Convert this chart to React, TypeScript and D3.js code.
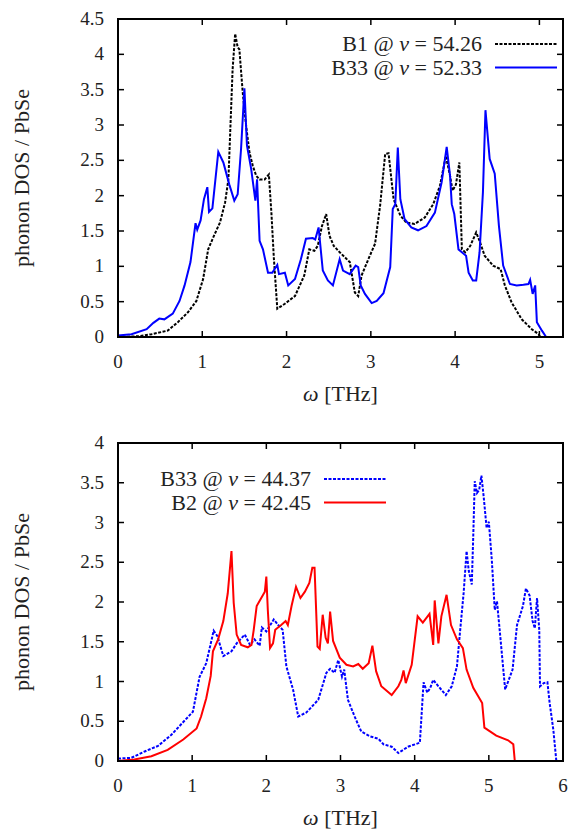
import React from 'react';
import * as d3 from 'd3';

// top panel: B1 and B33 at large volume
const topB1: [number, number][] = [
  [0, 0], [0.24, 0.01], [0.4, 0.04], [0.59, 0.09], [0.71, 0.21], [0.83, 0.35], [0.93, 0.51],
  [1.01, 0.82], [1.07, 1.24], [1.13, 1.41], [1.21, 1.62], [1.27, 1.9], [1.31, 2.23], [1.36, 3.79],
  [1.39, 4.29], [1.42, 4.1], [1.44, 4.07], [1.48, 3.46], [1.52, 2.99], [1.56, 2.61], [1.6, 2.42],
  [1.64, 2.28], [1.68, 2.23], [1.74, 2.23], [1.79, 2.3], [1.82, 1.76], [1.85, 1.1], [1.89, 0.4],
  [1.98, 0.47], [2.1, 0.58], [2.21, 0.87], [2.27, 1.24], [2.33, 1.22], [2.37, 1.29], [2.42, 1.57],
  [2.47, 1.74], [2.51, 1.43], [2.56, 1.29], [2.63, 1.2], [2.75, 1.06], [2.81, 0.63], [2.85, 0.58],
  [2.89, 0.87], [2.97, 1.1], [3.05, 1.32], [3.11, 1.86], [3.17, 2.59], [3.21, 2.6], [3.27, 1.95],
  [3.35, 1.72], [3.42, 1.62], [3.52, 1.6], [3.64, 1.69], [3.74, 1.88], [3.82, 2.14], [3.89, 2.56],
  [3.94, 2.28], [3.97, 2.07], [4.01, 2.16], [4.05, 2.47], [4.08, 1.24], [4.12, 1.2], [4.18, 1.29],
  [4.25, 1.48], [4.29, 1.36], [4.35, 1.15], [4.45, 1.01], [4.54, 0.96], [4.59, 0.73], [4.67, 0.49],
  [4.79, 0.25], [4.91, 0.11], [4.99, 0.04], [5.01, 0]
];

const topB33: [number, number][] = [
  [0, 0.02], [0.16, 0.04], [0.34, 0.11], [0.42, 0.2], [0.49, 0.26], [0.55, 0.25], [0.65, 0.33],
  [0.73, 0.51], [0.79, 0.73], [0.86, 1.06], [0.92, 1.61], [0.94, 1.52], [0.98, 1.65], [1.02, 1.95],
  [1.06, 2.12], [1.08, 1.77], [1.12, 1.82], [1.19, 2.62], [1.25, 2.47], [1.32, 2.16], [1.38, 1.93],
  [1.42, 2.02], [1.46, 2.66], [1.5, 3.52], [1.53, 2.71], [1.58, 2.38], [1.63, 1.93], [1.65, 2.23],
  [1.68, 1.36], [1.72, 1.24], [1.78, 0.91], [1.83, 0.91], [1.89, 1.02], [1.91, 0.89], [1.98, 0.91],
  [2.02, 0.73], [2.1, 0.82], [2.17, 1.1], [2.23, 1.39], [2.31, 1.4], [2.34, 1.38], [2.38, 1.55],
  [2.43, 0.94], [2.49, 0.8], [2.55, 0.73], [2.63, 1.1], [2.67, 0.94], [2.75, 0.89], [2.82, 1.01],
  [2.85, 0.99], [2.88, 0.73], [2.93, 0.61], [3.01, 0.48], [3.07, 0.51], [3.15, 0.62], [3.23, 0.99],
  [3.26, 1.81], [3.29, 1.88], [3.32, 2.68], [3.35, 1.95], [3.4, 1.67], [3.48, 1.55], [3.56, 1.51],
  [3.66, 1.57], [3.76, 1.76], [3.84, 2.19], [3.9, 2.69], [3.94, 2.28], [3.96, 1.88], [3.99, 1.74],
  [4.04, 1.24], [4.08, 1.2], [4.13, 1.15], [4.16, 0.91], [4.21, 0.8], [4.25, 0.8], [4.29, 1.2],
  [4.33, 2.05], [4.36, 3.21], [4.41, 2.52], [4.47, 2.31], [4.52, 1.57], [4.57, 1.01], [4.65, 0.75],
  [4.73, 0.73], [4.81, 0.74], [4.87, 0.75], [4.89, 0.81], [4.92, 0.61], [4.95, 0.73], [4.97, 0.21],
  [5.03, 0.09], [5.08, 0]
];

// bottom panel: B33 and B2 at small volume
const botB33: [number, number][] = [
  [0, 0.03], [0.18, 0.04], [0.36, 0.12], [0.54, 0.19], [0.72, 0.33], [0.88, 0.49], [1.01, 0.62],
  [1.1, 1.06], [1.19, 1.23], [1.29, 1.64], [1.34, 1.57], [1.42, 1.32], [1.53, 1.38], [1.6, 1.48],
  [1.71, 1.59], [1.78, 1.46], [1.84, 1.53], [1.91, 1.45], [1.94, 1.68], [2.0, 1.63], [2.1, 1.78],
  [2.16, 1.71], [2.22, 1.65], [2.27, 1.19], [2.36, 0.9], [2.43, 0.56], [2.54, 0.61], [2.7, 0.77],
  [2.81, 1.11], [2.86, 1.16], [2.92, 1.11], [2.97, 1.27], [3.02, 1.06], [3.05, 1.15], [3.1, 0.77],
  [3.19, 0.56], [3.28, 0.37], [3.4, 0.31], [3.51, 0.28], [3.58, 0.21], [3.69, 0.18], [3.78, 0.1],
  [3.91, 0.18], [4.07, 0.23], [4.12, 0.99], [4.17, 0.86], [4.21, 0.92], [4.25, 1.02], [4.32, 0.94],
  [4.42, 0.83], [4.5, 0.94], [4.57, 1.19], [4.61, 1.61], [4.66, 2.11], [4.7, 2.64], [4.73, 2.39],
  [4.77, 2.22], [4.79, 2.83], [4.81, 3.52], [4.84, 3.37], [4.87, 3.41], [4.9, 3.59], [4.93, 3.33],
  [4.97, 2.93], [5.0, 3.01], [5.04, 2.53], [5.08, 1.9], [5.11, 2.01], [5.15, 1.61], [5.22, 0.9],
  [5.26, 1.0], [5.32, 1.15], [5.38, 1.71], [5.46, 1.95], [5.5, 2.17], [5.55, 2.08], [5.59, 1.76],
  [5.62, 1.67], [5.65, 2.05], [5.68, 1.65], [5.69, 0.94], [5.74, 0.98], [5.79, 0.99], [5.82, 0.73],
  [5.87, 0.39], [5.91, 0]
];

const botB2: [number, number][] = [
  [0, 0], [0.22, 0.02], [0.45, 0.06], [0.67, 0.14], [0.88, 0.27], [1.06, 0.41], [1.12, 0.56],
  [1.19, 0.79], [1.25, 1.07], [1.28, 1.38], [1.35, 1.53], [1.42, 1.76], [1.48, 2.11], [1.53, 2.64],
  [1.56, 1.99], [1.6, 1.59], [1.66, 1.46], [1.75, 1.43], [1.8, 1.46], [1.83, 1.65], [1.87, 1.95],
  [1.92, 2.03], [1.98, 2.13], [2.0, 2.32], [2.02, 1.9], [2.05, 1.42], [2.09, 1.48], [2.12, 1.65],
  [2.2, 1.71], [2.26, 1.76], [2.29, 1.71], [2.34, 1.95], [2.4, 2.19], [2.46, 2.05], [2.52, 2.13],
  [2.58, 2.24], [2.62, 2.43], [2.65, 2.43], [2.69, 1.44], [2.72, 1.41], [2.76, 1.84], [2.8, 1.55],
  [2.83, 1.48], [2.86, 1.88], [2.9, 1.51], [2.99, 1.3], [3.08, 1.21], [3.17, 1.19], [3.24, 1.22],
  [3.3, 1.16], [3.38, 1.23], [3.43, 1.45], [3.48, 1.13], [3.55, 0.94], [3.69, 0.83], [3.78, 0.94],
  [3.82, 1.02], [3.85, 1.14], [3.88, 0.98], [3.96, 1.21], [4.04, 1.82], [4.11, 1.74], [4.2, 1.85],
  [4.25, 1.46], [4.27, 2.02], [4.32, 1.48], [4.36, 1.82], [4.43, 2.09], [4.49, 1.71], [4.57, 1.53],
  [4.65, 1.42], [4.7, 1.15], [4.79, 0.92], [4.91, 0.73], [4.94, 0.42], [5.1, 0.32], [5.26, 0.26],
  [5.33, 0.21], [5.35, 0]
];

const topXTicks = [0, 1, 2, 3, 4, 5];
const topYTicks = [0, 0.5, 1, 1.5, 2, 2.5, 3, 3.5, 4, 4.5];
const botXTicks = [0, 1, 2, 3, 4, 5, 6];
const botYTicks = [0, 0.5, 1, 1.5, 2, 2.5, 3, 3.5, 4];

const FONT = 'Liberation Serif, DejaVu Serif, serif';
const TXT = '#222';

type Series = { data: [number, number][]; color: string; dash?: string; label: string; vol: string };

const Panel = ({ top, bottom, xMax, yMax, xTicks, yTicks, series, legendRight, legendTop }: {
  top: number; bottom: number; xMax: number; yMax: number; xTicks: number[]; yTicks: number[];
  series: Series[]; legendRight: number; legendTop: number;
}) => {
  const left = 118, right = 563;
  const x = d3.scaleLinear().domain([0, xMax]).range([left, right]);
  const y = d3.scaleLinear().domain([0, yMax]).range([bottom, top]);
  const line = d3.line<[number, number]>().x(d => x(d[0])).y(d => y(d[1]));
  const tl = 6;
  return (
    <g style={{ fontFamily: FONT }}>
      {series.map((s, i) => (
        <path key={i} d={line(s.data) || ''} fill="none" stroke={s.color} strokeWidth={2}
          strokeDasharray={s.dash} strokeLinejoin="miter" />
      ))}
      {xTicks.map(t => (
        <g key={'x' + t}>
          <line x1={x(t)} x2={x(t)} y1={bottom} y2={bottom - tl} stroke="#000" strokeWidth={1.5} />
          <line x1={x(t)} x2={x(t)} y1={top} y2={top + tl} stroke="#000" strokeWidth={1.5} />
          <text x={x(t)} y={bottom + 31} textAnchor="middle" fontSize={19} fill={TXT}>{t}</text>
        </g>
      ))}
      {yTicks.map(t => (
        <g key={'y' + t}>
          <line x1={left} x2={left + tl} y1={y(t)} y2={y(t)} stroke="#000" strokeWidth={1.5} />
          <line x1={right} x2={right - tl} y1={y(t)} y2={y(t)} stroke="#000" strokeWidth={1.5} />
          <text x={left - 14} y={y(t) + 6} textAnchor="end" fontSize={19} fill={TXT}>{t}</text>
        </g>
      ))}
      <rect x={left} y={top} width={right - left} height={bottom - top} fill="none" stroke="#000" strokeWidth={2} />
      {series.map((s, i) => {
        const ly = legendTop + i * 23.5;
        return (
          <g key={'l' + i}>
            <text x={legendRight} y={ly + 7} textAnchor="end" fontSize={22} fill={TXT}>
              {s.label} @ <tspan fontStyle="italic">v</tspan> = {s.vol}
            </text>
            <line x1={legendRight + 13} x2={legendRight + 75} y1={ly} y2={ly} stroke={s.color} strokeWidth={2}
              strokeDasharray={s.dash} />
          </g>
        );
      })}
      <text transform={`translate(29,${(top + bottom) / 2}) rotate(-90)`} textAnchor="middle" fontSize={22}
        fill={TXT}>phonon DOS / PbSe</text>
      <text x={(left + right) / 2} y={bottom + 64} textAnchor="middle" fontSize={22} fill={TXT}>
        <tspan fontStyle="italic">ω</tspan> [THz]
      </text>
    </g>
  );
};

export default function App() {
  return (
    <svg width={571} height={833} style={{ position: 'absolute', left: 0, top: 0, background: '#fff' }}>
      <Panel top={19} bottom={337} xMax={5.28} yMax={4.5} xTicks={topXTicks} yTicks={topYTicks}
        legendRight={482} legendTop={44}
        series={[
          { data: topB1, color: '#000', dash: '3,1.5', label: 'B1', vol: '54.26' },
          { data: topB33, color: '#0000ff', label: 'B33', vol: '52.33' }
        ]} />
      <Panel top={443} bottom={761} xMax={6} yMax={4} xTicks={botXTicks} yTicks={botYTicks}
        legendRight={311} legendTop={479}
        series={[
          { data: botB33, color: '#0000ff', dash: '3,1.5', label: 'B33', vol: '44.37' },
          { data: botB2, color: '#ff0000', label: 'B2', vol: '42.45' }
        ]} />
    </svg>
  );
}
